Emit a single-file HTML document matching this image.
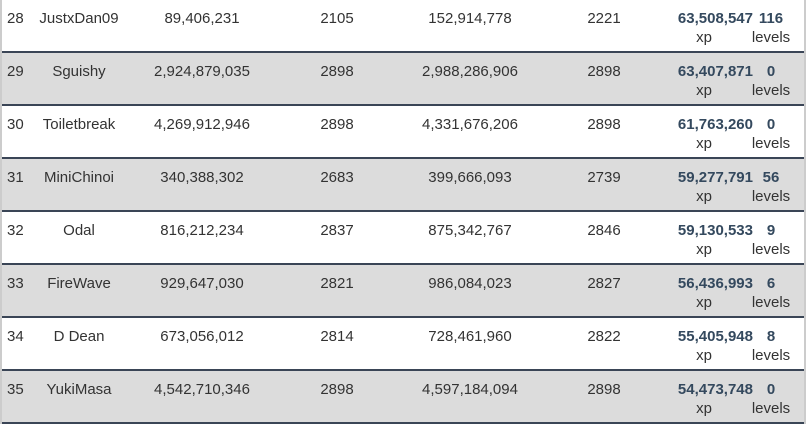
<!DOCTYPE html>
<html><head><style>
body{margin:0;width:806px;height:424px;overflow:hidden;background:#fff;font-family:"Liberation Sans",sans-serif;font-size:15px;color:#333}
.r{position:absolute;left:0;width:806px;height:51px;border-bottom:2px solid #3a4556;box-sizing:content-box}
.g{background:#dcdcdc}
.r span{position:absolute;top:10px;line-height:18px;white-space:nowrap}
.c{transform:translateX(-50%)}
.b{font-weight:bold;color:#34495e}
.edge{position:absolute;top:0;width:2px;height:424px;background:#ccc}
</style></head><body>
<div id="t"></div>
<script>
var d=[["28","JustxDan09","89,406,231","2105","152,914,778","2221","63,508,547","116"],
["29","Sguishy","2,924,879,035","2898","2,988,286,906","2898","63,407,871","0"],
["30","Toiletbreak","4,269,912,946","2898","4,331,676,206","2898","61,763,260","0"],
["31","MiniChinoi","340,388,302","2683","399,666,093","2739","59,277,791","56"],
["32","Odal","816,212,234","2837","875,342,767","2846","59,130,533","9"],
["33","FireWave","929,647,030","2821","986,084,023","2827","56,436,993","6"],
["34","D Dean","673,056,012","2814","728,461,960","2822","55,405,948","8"],
["35","YukiMasa","4,542,710,346","2898","4,597,184,094","2898","54,473,748","0"]];
var h="";
d.forEach(function(r,i){
h+='<div class="r'+(i%2?' g':'')+'" style="top:'+(i*53)+'px">'+
'<span style="left:7px">'+r[0]+'</span>'+
'<span class="c" style="left:79px">'+r[1]+'</span>'+
'<span class="c" style="left:202px">'+r[2]+'</span>'+
'<span class="c" style="left:337px">'+r[3]+'</span>'+
'<span class="c" style="left:470px">'+r[4]+'</span>'+
'<span class="c" style="left:604px">'+r[5]+'</span>'+
'<span class="b" style="right:53px">'+r[6]+'</span>'+
'<span class="c" style="left:704px;top:29px">xp</span>'+
'<span class="b c" style="left:771px">'+r[7]+'</span>'+
'<span class="c" style="left:771px;top:29px">levels</span></div>';
});
h+='<div class="edge" style="left:0"></div><div class="edge" style="left:804px"></div>';
document.getElementById("t").innerHTML=h;
</script>
</body></html>
